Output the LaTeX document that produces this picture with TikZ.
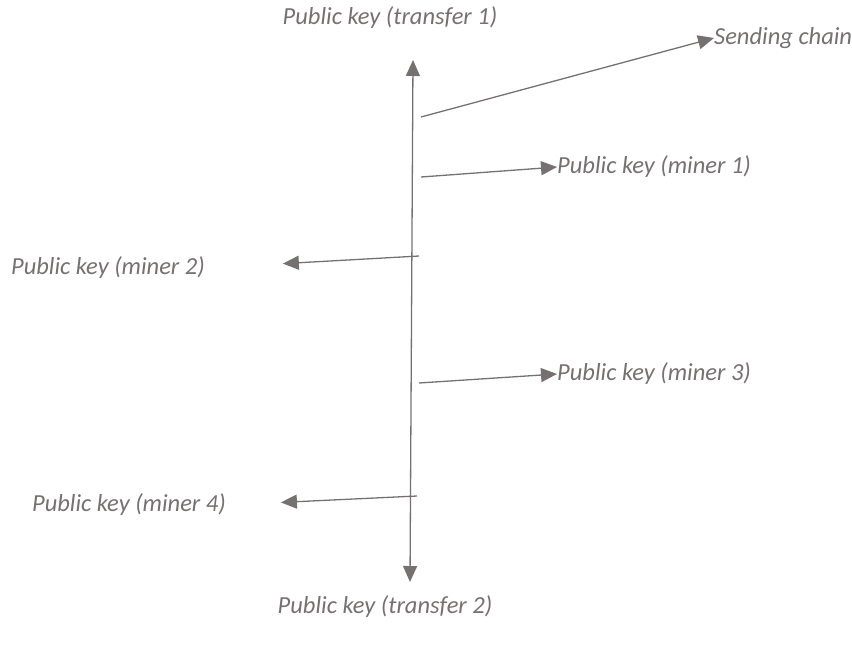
\documentclass[tikz,border=0pt]{standalone}
\usepackage{fontspec}
\setmainfont{Carlito}
\usetikzlibrary{arrows.meta}
\definecolor{keygray}{HTML}{767171}

\begin{document}
\begin{tikzpicture}[x=1pt,y=-1pt,
  keytext/.style={inner sep=0pt,text=keygray,font=\fontsize{24.5}{29}\selectfont\itshape},
  link/.style={draw=keygray,line width=1.3pt,-{Triangle[length=16pt,width=14pt]}}]
\useasboundingbox (0,0) rectangle (852,649);
% the long double-headed line
\coordinate (top) at (413,60);
\coordinate (bot) at (410,582);
\draw[link,{Triangle[length=16pt,width=14pt]}-{Triangle[length=16pt,width=14pt]}] (top) -- (bot);
\node[keytext] (t1) at (390,18) {Public key (transfer 1)};
\node[keytext] (t2) at (385,607) {Public key (transfer 2)};
\node[keytext,anchor=west] (sc) at (714,38) {Sending chain};
\node[keytext,anchor=west] (k1) at (557,167) {Public key (miner 1)};
\node[keytext,anchor=east] (k2) at (205,268) {Public key (miner 2)};
\node[keytext,anchor=west] (k3) at (557,374) {Public key (miner 3)};
\node[keytext,anchor=east] (k4) at (226,505) {Public key (miner 4)};
\coordinate (s0) at (421,117);
\coordinate (s1) at (421,177);
\coordinate (s2) at (419,256);
\coordinate (s3) at (419,383);
\coordinate (s4) at (417,496);
\draw[link] (s0) -- (sc.west);
\draw[link] (s1) -- (k1.west);
\draw[link,shorten >=78pt] (s2) -- (k2.east);
\draw[link] (s3) -- (k3.west);
\draw[link,shorten >=55pt] (s4) -- (k4.east);
\end{tikzpicture}
\end{document}
